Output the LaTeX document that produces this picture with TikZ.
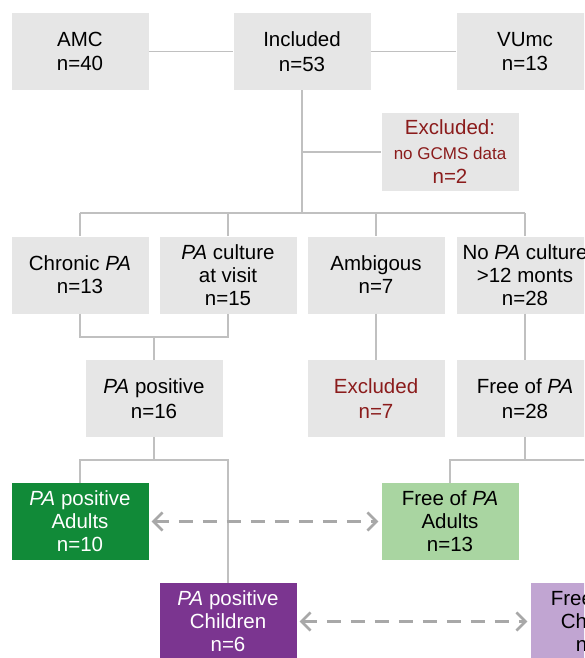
\documentclass[tikz,border=0pt]{standalone}
\usepackage{fontspec}
\setmainfont{Liberation Sans}
\usetikzlibrary{arrows.meta}
\definecolor{boxgray}{HTML}{E6E6E6}
\definecolor{linegray}{HTML}{C0C0C0}
\definecolor{dashgray}{HTML}{A8A8A8}
\definecolor{exred}{HTML}{8B1C1C}
\definecolor{dkgreen}{HTML}{118A38}
\definecolor{ltgreen}{HTML}{A9D5A1}
\definecolor{dkpurple}{HTML}{7B3590}
\definecolor{ltpurple}{HTML}{C1A5D2}
\tikzset{
  fbox/.style={rectangle, fill=boxgray, minimum width=137pt, minimum height=77pt,
    inner sep=0pt, align=center, font=\fontsize{20.5}{24.5}\selectfont},
  tbox/.style={fbox, font=\fontsize{20.5}{23}\selectfont},
  conn/.style={draw=linegray, line width=1.8pt},
  darr/.style={draw=dashgray, line width=2.6pt, dash pattern=on 14pt off 10pt,
    {Straight Barb[length=9pt,width=18pt]}-{Straight Barb[length=9pt,width=18pt]},
    shorten <=3pt, shorten >=3pt}
}
\begin{document}
\begin{tikzpicture}[x=1pt,y=-1pt]
\useasboundingbox (0,0) rectangle (584,658);
\clip (0,0) rectangle (584,658);
\fill[white] (0,0) rectangle (584,658);
% row 1
\node[fbox] (amc) at (80,51.5) {AMC\\n=40};
\node[fbox] (inc) at (302,51.5) {Included\\n=53};
\node[fbox] (vu) at (525,51.5) {VUmc\\n=13};
\node[fbox, text=exred] (ex1) at (450,152) {Excluded:\\{\fontsize{17}{22}\selectfont no GCMS data}\\n=2};
% row 2
\node[tbox] (chr) at (80,275) {Chronic \textit{PA}\\n=13};
\node[tbox] (cul) at (228,275) {\textit{PA} culture\\at visit\\n=15};
\node[tbox] (amb) at (376,275) {Ambigous\\n=7};
\node[tbox] (nop) at (525,275) {No \textit{PA} culture\\>12 monts\\n=28};
% row 3
\node[fbox] (pos) at (154,398.5) {\textit{PA} positive\\n=16};
\node[fbox, text=exred] (ex2) at (376,398.5) {Excluded\\n=7};
\node[fbox] (fre) at (525,398.5) {Free of \textit{PA}\\n=28};
% row 4/5
\node[tbox, fill=dkgreen, text=white] (pa) at (80,521.5) {\textit{PA} positive\\Adults\\n=10};
\node[tbox, fill=ltgreen] (fa) at (450,521.5) {Free of \textit{PA}\\Adults\\n=13};
\node[tbox, fill=dkpurple, text=white] (pc) at (228,621.5) {\textit{PA} positive\\Children\\n=6};
\node[tbox, fill=ltpurple] (fc) at (599,621.5) {Free of \textit{PA}\\Children\\n=15};
% connectors row 1
\draw[conn] (amc) -- (inc);
\draw[conn] (inc) -- (vu);
\coordinate (bus) at (302,213);
\coordinate (exj) at (302,152);
\draw[conn] (inc.south) -- (bus);
\draw[conn] (exj) -- (ex1.west);
\draw[conn] (chr.north |- bus) -- (nop.north |- bus);
\draw[conn] (chr.north |- bus) -- (chr.north);
\draw[conn] (cul.north |- bus) -- (cul.north);
\draw[conn] (amb.north |- bus) -- (amb.north);
\draw[conn] (nop.north |- bus) -- (nop.north);
% join to PA positive
\coordinate (j1) at (154,337);
\draw[conn] (chr.south) -- (chr.south |- j1) -- (cul.south |- j1) -- (cul.south);
\draw[conn] (j1) -- (pos.north);
\draw[conn] (amb.south) -- (ex2.north);
\draw[conn] (nop.south) -- (fre.north);
% split PA positive
\coordinate (j2) at (154,460);
\draw[conn] (pos.south) -- (j2);
\draw[conn] (pa.north) -- (pa.north |- j2) -- (pc.north |- j2) -- (pc.north);
% split free
\coordinate (j3) at (525,460);
\draw[conn] (fre.south) -- (j3);
\draw[conn] (fa.north) -- (fa.north |- j3) -- (fc.north |- j3) -- (fc.north);
% dashed comparisons
\draw[darr] (pa.east) -- (fa.west);
\draw[darr] (pc.east) -- (fc.west);
\end{tikzpicture}
\end{document}
